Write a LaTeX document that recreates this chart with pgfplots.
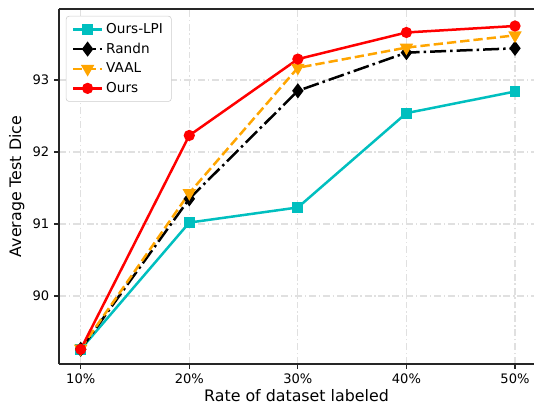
\documentclass[border=0pt]{standalone}
\usepackage{fontspec}
\setmainfont{DejaVu Sans}
\usepackage{pgfplots}
\pgfplotsset{compat=1.18}

\definecolor{mcyan}{RGB}{0,191,191}
\definecolor{morange}{RGB}{255,165,0}
\definecolor{mred}{RGB}{255,0,0}
\definecolor{gridgray}{RGB}{224,224,224}

\begin{document}
\begin{tikzpicture}
\begin{axis}[
  name=main,
  scale only axis,
  width=342pt, height=255.6pt,
  xmin=8, xmax=51.75,
  ymin=89.056, ymax=93.986,
  separate axis lines,
  axis x line*=box,
  axis y line*=left,
  axis line style={line width=0.8pt, black!85},
  xtick={10,20,30,40,50},
  xticklabels={10\%,20\%,30\%,40\%,50\%},
  ytick={90,91,92,93},
  tick align=outside,
  tick pos=left,
  major tick length=3.5pt,
  tick style={line width=0.8pt, black!85},
  tick label style={font=\fontsize{9.4}{11}\selectfont},
  /pgf/number format/assume math mode=true,
  xlabel={Rate of dataset labeled},
  ylabel={Average Test Dice},
  label style={font=\fontsize{11.4}{13.5}\selectfont},
  xlabel style={yshift=3pt},
  ylabel style={yshift=-1pt},
  grid=major,
  major grid style={gridgray, line width=0.8pt, dash pattern=on 5pt off 2pt on 1pt off 2pt},
  legend style={at={(0,1)}, anchor=north west, xshift=5pt, yshift=-5pt,
    font=\fontsize{9.8}{11}\selectfont, draw=black!20, rounded corners=2pt,
    row sep=1.4pt, inner xsep=4pt, inner ysep=3pt},
  legend cell align=left,
  legend image code/.code={
    \draw[mark repeat=2,mark phase=2] plot coordinates {(0pt,0pt) (10.5pt,0pt) (21pt,0pt)};
  },
]
\addplot[mcyan, line width=1.8pt, mark=square*, mark size=3pt, mark options={solid}]
  coordinates {(10,89.26) (20,91.02) (30,91.23) (40,92.54) (50,92.84)};
\addlegendentry{Ours-LPI}
\addplot[black, line width=1.8pt, dash pattern=on 11.5pt off 2.9pt on 1.8pt off 2.9pt,
  mark=diamond*, mark size=4pt, mark options={solid}]
  coordinates {(10,89.26) (20,91.35) (30,92.85) (40,93.38) (50,93.44)};
\addlegendentry{Randn}
\addplot[morange, line width=1.8pt, dash pattern=on 6.7pt off 2.9pt,
  mark=triangle*, mark size=3.8pt, mark options={solid, rotate=180}]
  coordinates {(10,89.27) (20,91.43) (30,93.17) (40,93.45) (50,93.62)};
\addlegendentry{VAAL}
\addplot[mred, line width=1.8pt, mark=*, mark size=3.1pt, mark options={solid}]
  coordinates {(10,89.26) (20,92.23) (30,93.29) (40,93.66) (50,93.75)};
\addlegendentry{Ours}
\end{axis}
\pgfresetboundingbox
\path[use as bounding box] ([xshift=-42.48pt,yshift=-30.24pt]main.south west) rectangle ([yshift=6.48pt]main.north east);
\end{tikzpicture}
\end{document}
